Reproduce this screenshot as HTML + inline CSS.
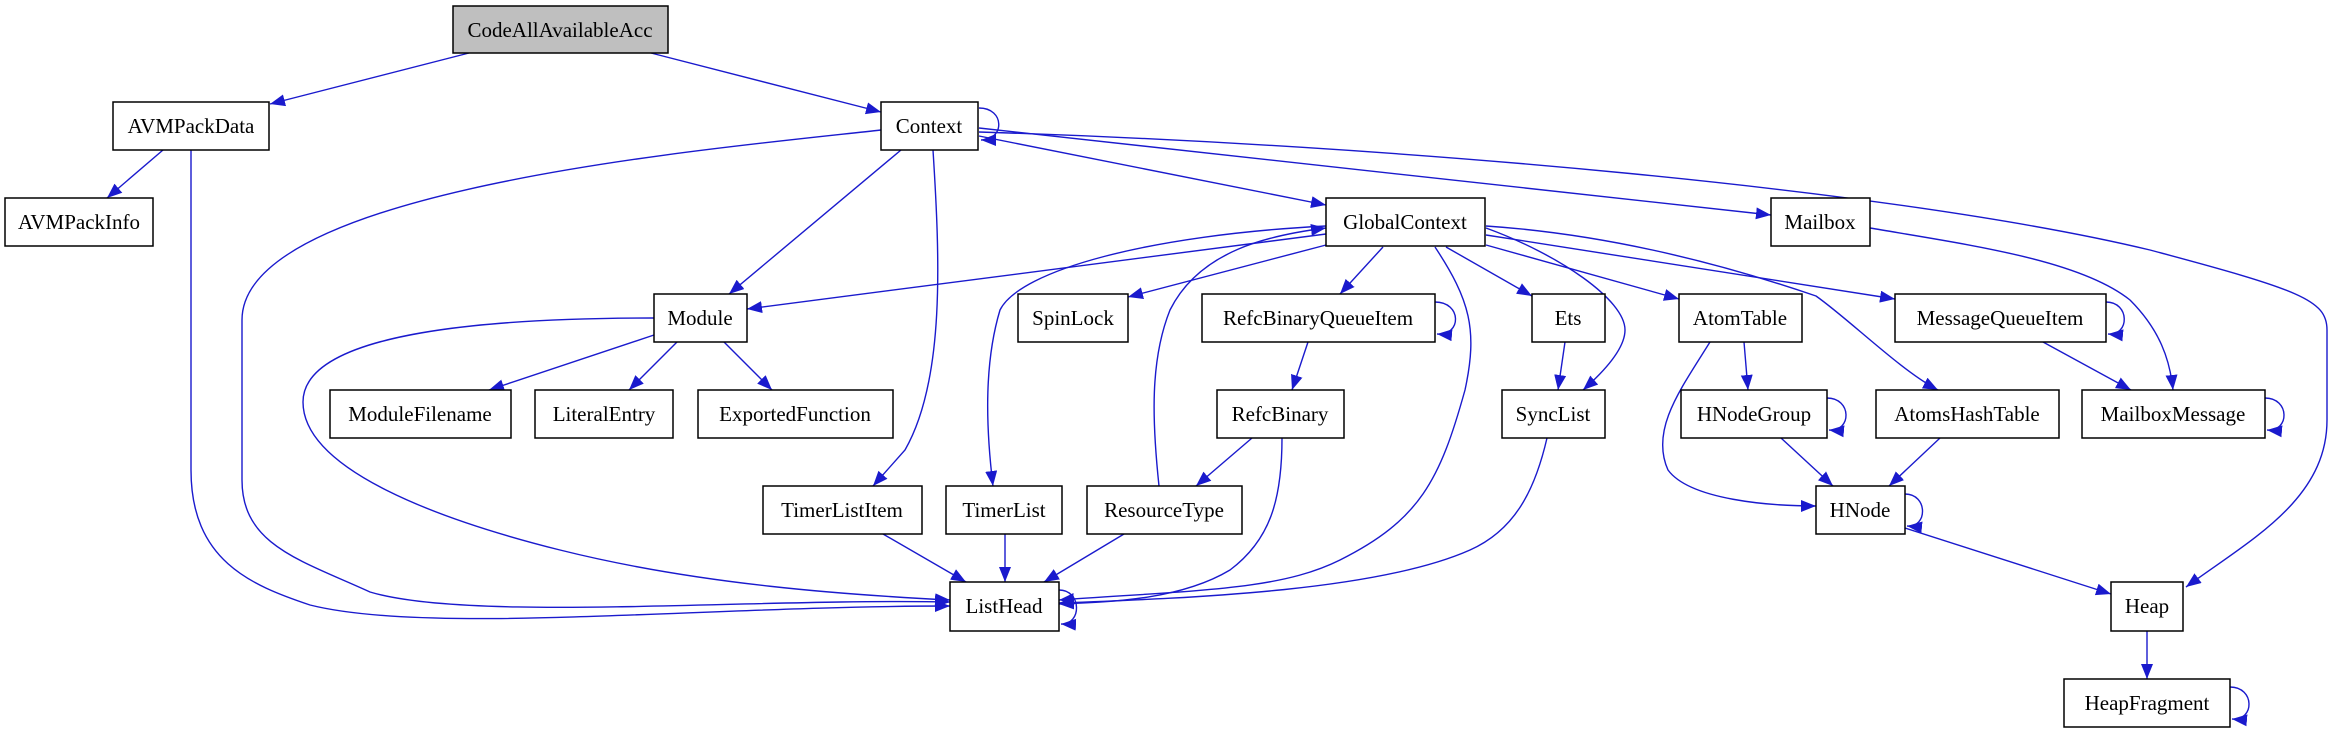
<!DOCTYPE html>
<html><head><meta charset="utf-8"><style>
html,body{margin:0;padding:0;background:#fff;}
svg{display:block;}
text{font-family:"Liberation Serif",serif;font-size:21px;fill:#000;}
</style></head><body>
<svg width="2333" height="731" viewBox="0 0 2333 731" xmlns="http://www.w3.org/2000/svg">
<defs>
<marker id="a" markerUnits="userSpaceOnUse" markerWidth="17" markerHeight="13" refX="15" refY="6" orient="auto">
<path d="M0,0 L15,6 L0,12 z" fill="#1a1acd"/>
</marker>
</defs>
<g fill="none" stroke="#1a1acd" stroke-width="1.4" marker-end="url(#a)">
<path d="M469,53 L270,104"/>
<path d="M651,53 L881,112"/>
<path d="M163,150 L107,198"/>
<path d="M191,150 V470 C191,560 250,585 310,605 C430,635 700,606 950,606"/>
<path d="M881,130 C700,150 242,190 242,320 V480 C242,545 300,560 370,592 C470,622 750,598 950,602"/>
<path d="M979,108 C1005,108 1005,140 981,140"/>
<path d="M901,150 L729,294"/>
<path d="M933,150 C940,260 945,380 905,450 L873,486"/>
<path d="M979,136 L1326,205"/>
<path d="M979,128 L1771,215"/>
<path d="M979,132 C1400,145 1900,190 2150,250 C2300,290 2327,300 2327,330 V420 C2327,500 2250,540 2186,587"/>
<path d="M1326,234 L747,309"/>
<path d="M1326,245 L1128,297"/>
<path d="M1383,247 L1340,294"/>
<path d="M1435,247 C1470,300 1478,330 1465,390 C1440,480 1420,520 1340,560 C1280,590 1200,590 1059,600"/>
<path d="M1326,226 C1150,235 1020,270 1000,310 C985,360 985,420 993,486"/>
<path d="M1446,247 L1532,296"/>
<path d="M1486,228 C1560,255 1625,300 1625,330 C1625,350 1600,375 1583,390"/>
<path d="M1486,245 L1679,299"/>
<path d="M1486,235 L1895,299"/>
<path d="M1486,226 C1620,235 1740,270 1816,296 C1850,320 1900,370 1938,390"/>
<path d="M1159,486 C1152,420 1150,360 1170,310 C1200,250 1270,235 1326,228"/>
<path d="M1435,302 C1462,302 1462,336 1437,334"/>
<path d="M1308,342 L1292,390"/>
<path d="M1252,438 L1196,486"/>
<path d="M1282,438 C1282,500 1270,540 1230,570 C1180,600 1110,602 1059,604"/>
<path d="M1124,534 L1044,582"/>
<path d="M1005,534 L1005,582"/>
<path d="M883,534 L966,582"/>
<path d="M1059,590 C1082,590 1082,625 1061,624"/>
<path d="M1547,438 C1535,490 1515,530 1470,550 C1380,590 1200,598 1059,603"/>
<path d="M654,318 C500,318 303,330 303,402 C303,470 440,520 560,550 C700,585 850,595 950,600"/>
<path d="M654,335 L489,390"/>
<path d="M677,342 L629,390"/>
<path d="M724,342 L772,390"/>
<path d="M1565,342 L1558,390"/>
<path d="M1744,342 L1748,390"/>
<path d="M1710,342 C1680,390 1650,430 1668,470 C1690,500 1770,506 1816,506"/>
<path d="M1827,398 C1852,398 1852,432 1829,430"/>
<path d="M1781,438 L1833,486"/>
<path d="M1940,438 L1889,486"/>
<path d="M1905,494 C1928,494 1928,528 1907,526"/>
<path d="M1905,528 L2111,594"/>
<path d="M2106,302 C2130,302 2130,336 2108,334"/>
<path d="M2043,342 L2131,390"/>
<path d="M1870,228 C1970,245 2080,260 2130,300 C2160,330 2170,360 2173,390"/>
<path d="M2265,398 C2290,398 2290,432 2267,430"/>
<path d="M2147,631 L2147,679"/>
<path d="M2230,687 C2255,687 2255,721 2232,719"/>
</g>
<g stroke="#000" stroke-width="1.5" fill="#fff">
<rect x="453" y="6" width="215" height="47" fill="#bfbfbf"/>
<rect x="113" y="102" width="156" height="48"/>
<rect x="881" y="102" width="97" height="48"/>
<rect x="5" y="198" width="148" height="48"/>
<rect x="1326" y="198" width="159" height="48"/>
<rect x="1771" y="198" width="99" height="48"/>
<rect x="654" y="294" width="93" height="48"/>
<rect x="1018" y="294" width="110" height="48"/>
<rect x="1202" y="294" width="233" height="48"/>
<rect x="1532" y="294" width="73" height="48"/>
<rect x="1679" y="294" width="123" height="48"/>
<rect x="1895" y="294" width="211" height="48"/>
<rect x="330" y="390" width="181" height="48"/>
<rect x="535" y="390" width="138" height="48"/>
<rect x="698" y="390" width="195" height="48"/>
<rect x="1217" y="390" width="127" height="48"/>
<rect x="1502" y="390" width="103" height="48"/>
<rect x="1681" y="390" width="146" height="48"/>
<rect x="1876" y="390" width="183" height="48"/>
<rect x="2082" y="390" width="183" height="48"/>
<rect x="763" y="486" width="159" height="48"/>
<rect x="946" y="486" width="116" height="48"/>
<rect x="1087" y="486" width="155" height="48"/>
<rect x="1816" y="486" width="89" height="48"/>
<rect x="950" y="582" width="109" height="49"/>
<rect x="2111" y="582" width="72" height="49"/>
<rect x="2064" y="679" width="166" height="48"/>
</g>
<g text-anchor="middle">
<text x="560" y="37">CodeAllAvailableAcc</text>
<text x="191" y="133">AVMPackData</text>
<text x="929" y="133">Context</text>
<text x="79" y="229">AVMPackInfo</text>
<text x="1405" y="229">GlobalContext</text>
<text x="1820" y="229">Mailbox</text>
<text x="700" y="325">Module</text>
<text x="1073" y="325">SpinLock</text>
<text x="1318" y="325">RefcBinaryQueueItem</text>
<text x="1568" y="325">Ets</text>
<text x="1740" y="325">AtomTable</text>
<text x="2000" y="325">MessageQueueItem</text>
<text x="420" y="421">ModuleFilename</text>
<text x="604" y="421">LiteralEntry</text>
<text x="795" y="421">ExportedFunction</text>
<text x="1280" y="421">RefcBinary</text>
<text x="1553" y="421">SyncList</text>
<text x="1754" y="421">HNodeGroup</text>
<text x="1967" y="421">AtomsHashTable</text>
<text x="2173" y="421">MailboxMessage</text>
<text x="842" y="517">TimerListItem</text>
<text x="1004" y="517">TimerList</text>
<text x="1164" y="517">ResourceType</text>
<text x="1860" y="517">HNode</text>
<text x="1004" y="613">ListHead</text>
<text x="2147" y="613">Heap</text>
<text x="2147" y="710">HeapFragment</text>
</g>
</svg>
</body></html>
